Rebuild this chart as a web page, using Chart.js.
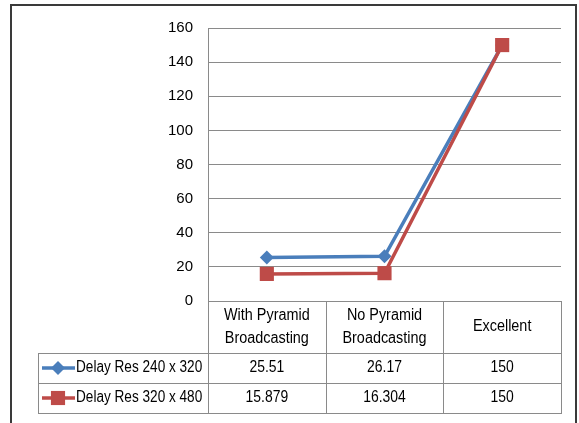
<!DOCTYPE html>
<html><head><meta charset="utf-8">
<script src="https://cdn.jsdelivr.net/npm/chart.js@4/dist/chart.umd.min.js"></script>
<style>html,body{margin:0;padding:0;background:#fff;} #wrap{width:579px;height:423px;position:relative;}</style>
</head><body><div id="wrap"><canvas id="c" width="579" height="423"></canvas></div>
<script>
const categories = [["With Pyramid","Broadcasting"],["No Pyramid","Broadcasting"],["Excellent"]];
const seriesNames = ["Delay Res 240 x 320","Delay Res 320 x 480"];
const delay240 = [25.51, 26.17, 150];
const delay320 = [15.879, 16.304, 150];
const yMin = 0, yMax = 160, yStep = 20;

const FONT = "'Liberation Sans', Arial, sans-serif";
const BLUE = '#4A7EBB', RED = '#BE4B48', GRID = '#8a8a8a';
const TXT_SX = 0.87;

function drawMarker(ctx, style, x, y, r, color){
  ctx.fillStyle = color;
  ctx.beginPath();
  if(style === 'rectRot'){
    ctx.moveTo(x, y - r); ctx.lineTo(x + r, y); ctx.lineTo(x, y + r); ctx.lineTo(x - r, y); ctx.closePath();
  } else {
    const s = r * Math.SQRT1_2;
    ctx.rect(x - s, y - s, 2 * s, 2 * s);
  }
  ctx.fill();
}
function text(ctx, t, x, y, sx){
  ctx.save(); ctx.translate(x, y); ctx.scale(sx, 1); ctx.fillText(t, 0, 0); ctx.restore();
}

const tablePlugin = {
  id: 'tbl',
  beforeDraw(chart){
    const ctx = chart.ctx;
    ctx.save();
    ctx.fillStyle = '#fff';
    ctx.fillRect(0, 0, chart.width, chart.height);
    ctx.strokeStyle = '#3a3a3a'; ctx.lineWidth = 2;
    ctx.strokeRect(11, 5, 565, 440);
    ctx.restore();
  },
  afterDraw(chart){
    const ctx = chart.ctx, a = chart.chartArea, x = chart.scales.x;
    const n = categories.length;
    const colW = (a.right - a.left) / n;
    const top = a.bottom, hdrBot = top + 52, r1 = hdrBot + 30, r2 = r1 + 30;
    const left = 38;
    ctx.save();
    ctx.strokeStyle = GRID; ctx.lineWidth = 1;
    ctx.beginPath();
    for(let i = 0; i <= n; i++){
      const xx = Math.round(a.left + i * colW) + 0.5;
      ctx.moveTo(xx, top); ctx.lineTo(xx, r2);
    }
    ctx.moveTo(left + 0.5, hdrBot); ctx.lineTo(left + 0.5, r2);
    [hdrBot, r1, r2].forEach(y => { y = Math.round(y) + 0.5; ctx.moveTo(left, y); ctx.lineTo(Math.round(a.right) + 1, y); });
    ctx.stroke();

    ctx.fillStyle = '#000';
    ctx.font = '16px ' + FONT;
    ctx.textAlign = 'center'; ctx.textBaseline = 'middle';
    const mid = (top + hdrBot) / 2;
    categories.forEach((lines, i) => {
      const cx = x.getPixelForValue(i);
      const start = mid - (lines.length - 1) * 23 / 2;
      lines.forEach((t, k) => text(ctx, t, cx, start + k * 23, 0.9));
    });

    const rows = [
      {name: seriesNames[0], vals: delay240, color: BLUE, style: 'rectRot', r: 7, y: (hdrBot + r1) / 2},
      {name: seriesNames[1], vals: delay320, color: RED, style: 'rect', r: 10, y: (r1 + r2) / 2}
    ];
    rows.forEach(row => {
      ctx.strokeStyle = row.color; ctx.lineWidth = 3.5;
      ctx.beginPath(); ctx.moveTo(42, row.y); ctx.lineTo(75, row.y); ctx.stroke();
      drawMarker(ctx, row.style, 58, row.y, row.r, row.color);
      ctx.fillStyle = '#000';
      ctx.textAlign = 'left';
      text(ctx, row.name, 76, row.y, 0.85);
      ctx.textAlign = 'center';
      row.vals.forEach((v, i) => text(ctx, String(v), x.getPixelForValue(i), row.y, TXT_SX));
    });
    ctx.restore();
  }
};

new Chart(document.getElementById('c'), {
  type: 'line',
  data: {
    labels: categories.map(c => c.join(' ')),
    datasets: [
      {label: seriesNames[0], data: delay240, borderColor: BLUE, backgroundColor: BLUE, borderWidth: 3.5,
       pointStyle: 'rectRot', pointRadius: 7, pointHoverRadius: 7, pointBorderWidth: 0, tension: 0, order: 1},
      {label: seriesNames[1], data: delay320, borderColor: RED, backgroundColor: RED, borderWidth: 3.5,
       pointStyle: 'rect', pointRadius: 10, pointHoverRadius: 10, pointBorderWidth: 0, tension: 0, order: 0}
    ]
  },
  options: {
    responsive: false, animation: false, devicePixelRatio: 1,
    layout: {padding: {left: 0, right: 18, top: 28, bottom: 70}},
    plugins: {legend: {display: false}, tooltip: {enabled: false}},
    scales: {
      x: {
        offset: true,
        grid: {display: false, drawTicks: false},
        border: {display: false},
        ticks: {display: false},
        afterFit(s){ s.height = 52; }
      },
      y: {
        min: yMin, max: yMax,
        ticks: {stepSize: yStep, color: '#000', font: {family: FONT, size: 15}, padding: 15},
        grid: {color: GRID, lineWidth: 1, drawTicks: false},
        border: {display: true, color: GRID, width: 1},
        afterFit(s){ s.width = 208; }
      }
    }
  },
  plugins: [tablePlugin]
});
</script>
</body></html>
